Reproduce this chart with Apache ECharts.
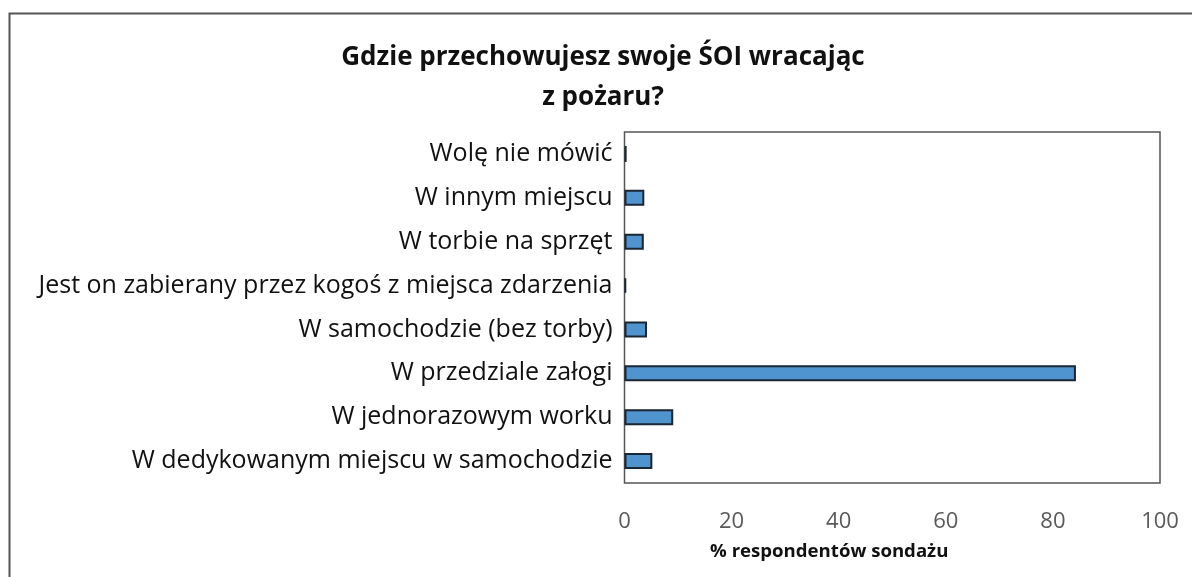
<!DOCTYPE html>
<html>
<head>
<meta charset="utf-8">
<script src="https://cdn.jsdelivr.net/npm/echarts@6/dist/echarts.min.js"></script>
<style>
  html, body { margin: 0; padding: 0; background: #fff; }
  #main { width: 1192px; height: 577px; }
</style>
</head>
<body>
<div id="main"></div>
<script>
  // categories, top to bottom
  const places = [
    'Wolę nie mówić',
    'W innym miejscu',
    'W torbie na sprzęt',
    'Jest on zabierany przez kogoś z miejsca zdarzenia',
    'W samochodzie (bez torby)',
    'W przedziale załogi',
    'W jednorazowym worku',
    'W dedykowanym miejscu w samochodzie'
  ];
  // % of respondents
  const shares = [0.4, 3.7, 3.6, 0.3, 4.2, 84.3, 9.1, 5.2];

  const xTicks = [0, 20, 40, 60, 80, 100];

  const font = 'Open Sans';

  const chart = echarts.init(document.getElementById('main'));

  const option = {
    animation: false,
    backgroundColor: '#fff',
    title: {
      text: 'Gdzie przechowujesz swoje ŚOI wracając\nz pożaru?',
      left: 598,
      top: 33,
      textAlign: 'center',
      textStyle: {
        fontFamily: font,
        fontSize: 26,
        fontWeight: 'bold',
        color: '#111',
        lineHeight: 40
      }
    },
    graphic: [{
      type: 'rect',
      shape: { x: 9.5, y: 13.5, width: 1200, height: 600 },
      style: { fill: 'none', stroke: '#555', lineWidth: 2 },
      silent: true
    }],
    grid: {
      left: 624.5,
      right: 32,
      top: 132,
      bottom: 94,
      show: true,
      borderColor: '#555',
      borderWidth: 1.5,
      containLabel: false
    },
    xAxis: {
      type: 'value',
      min: xTicks[0],
      max: xTicks[xTicks.length - 1],
      interval: 20,
      splitLine: { show: false },
      axisLine: { show: false },
      axisTick: { show: false },
      axisLabel: {
        margin: 28,
        fontFamily: font,
        fontSize: 22,
        color: '#595959'
      },
      name: '% respondentów sondażu',
      nameLocation: 'middle',
      nameGap: 59,
      nameTextStyle: {
        fontFamily: font,
        fontSize: 18.6,
        fontWeight: 'bold',
        color: '#111',
        padding: [0, 126, 0, 0]
      }
    },
    yAxis: {
      type: 'category',
      data: places,
      inverse: true,
      axisLine: { show: false },
      axisTick: { show: false },
      axisLabel: {
        margin: 12,
        fontFamily: font,
        fontSize: 25,
        color: '#111'
      }
    },
    series: [{
      type: 'bar',
      data: shares,
      barWidth: 16,
      itemStyle: {
        color: '#4f93cf',
        borderColor: '#1a2633',
        borderWidth: 2
      }
    }]
  };

  chart.setOption(option);
</script>
</body>
</html>
